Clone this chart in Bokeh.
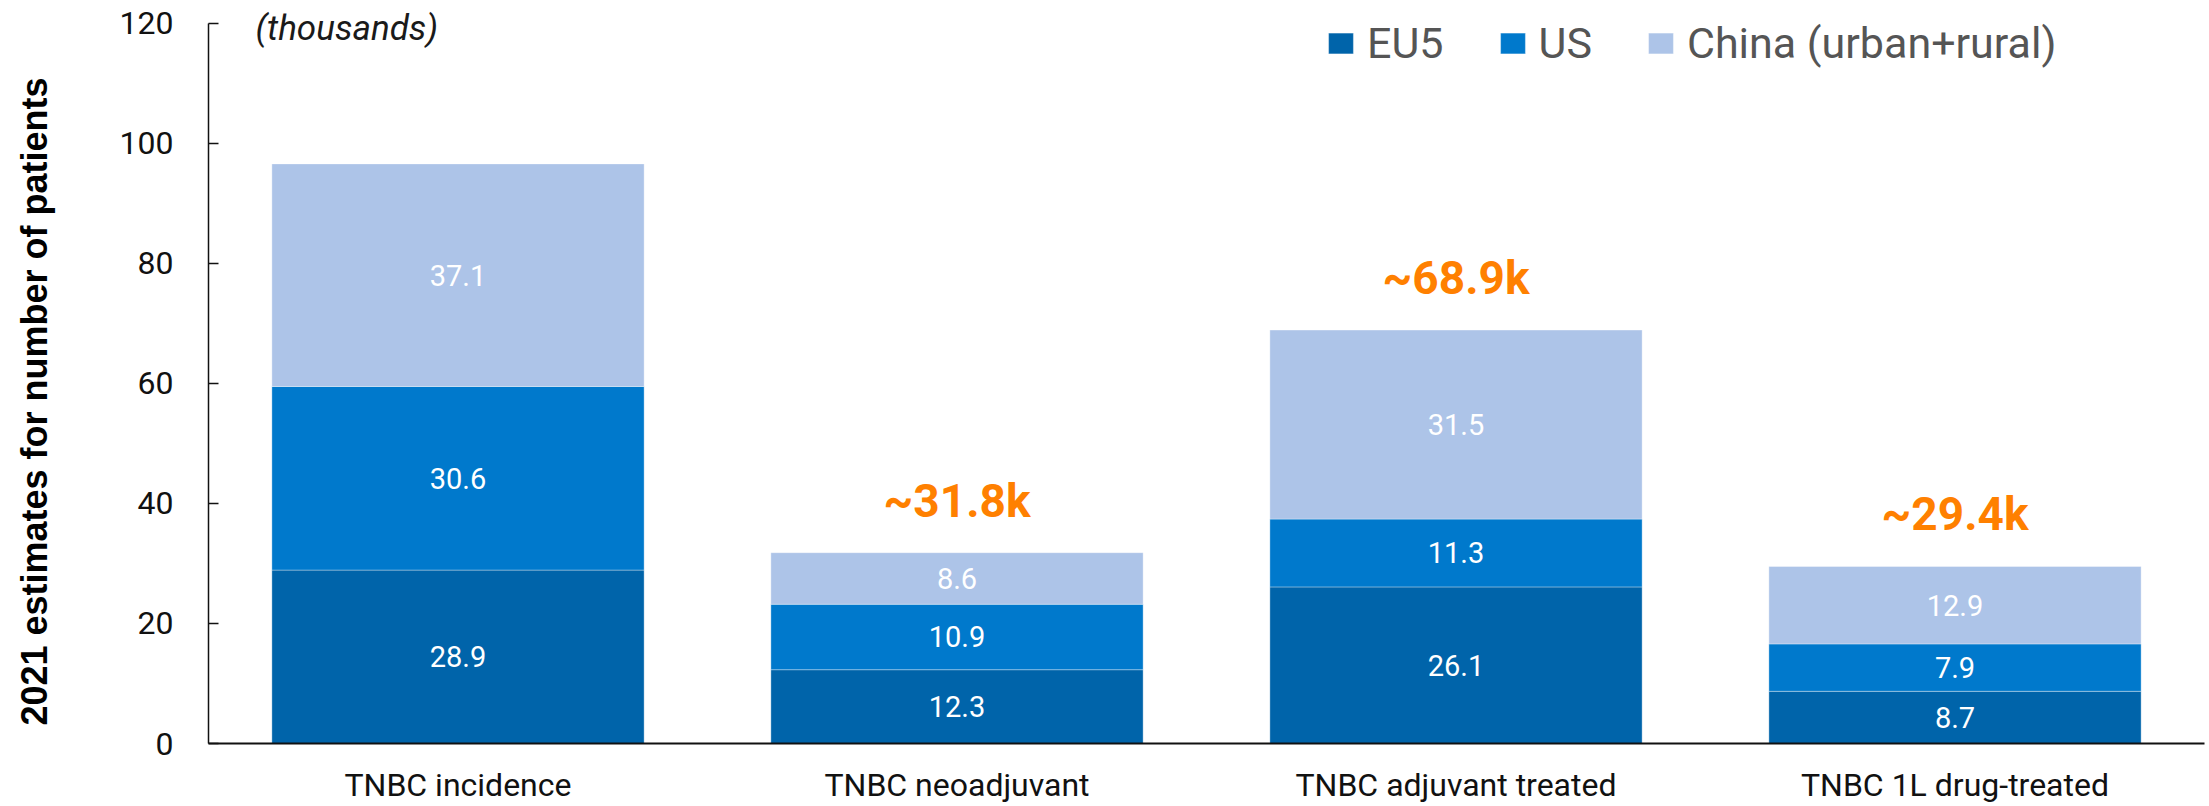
import math
from bokeh.plotting import figure
from bokeh.layouts import row
from bokeh.models import ColumnDataSource, Label, Legend, LegendItem, FactorRange, Range1d
from bokeh.core.properties import value
from bokeh.embed import file_html
from bokeh.resources import INLINE

categories = ["TNBC incidence", "TNBC neoadjuvant", "TNBC adjuvant treated", "TNBC 1L drug-treated"]
eu5 = [28.9, 12.3, 26.1, 8.7]
us = [30.6, 10.9, 11.3, 7.9]
china = [37.1, 8.6, 31.5, 12.9]
total_labels = ["", "~31.8k", "~68.9k", "~29.4k"]
series_names = ["EU5", "US", "China (urban+rural)"]
colors = ["#0064AA", "#0079CC", "#ADC4E8"]
y_ticks = [0, 20, 40, 60, 80, 100, 120]
y_max = 120
y_title = "2021 estimates for number of patients"

FONT = "Roboto"
H = 806
TITLE_W = 60

totals = [a + b + c for a, b, c in zip(eu5, us, china)]
src = ColumnDataSource(data=dict(cat=categories, EU5=eu5, US=us, China=china, total=totals, tlabel=total_labels))

# narrow strip holding the rotated y-axis title
pt = figure(width=TITLE_W, height=H, x_range=Range1d(0, TITLE_W), y_range=Range1d(0, H), output_backend="svg",
            toolbar_location=None, min_border=0)
pt.xaxis.visible = False
pt.yaxis.visible = False
pt.grid.visible = False
pt.outline_line_color = None
pt.text(x=[34], y=[H - 435], text=[y_title], angle=math.pi / 2, text_align="center",
        text_baseline="middle", text_font=value("Liberation Sans"), text_font_style="bold",
        text_font_size="36px", text_color="#000000")

# main chart; frame spans the full height above the x axis, axis line stops at 120
p = figure(x_range=FactorRange(*categories, range_padding=0), y_range=Range1d(0, y_max * 744 / 721),
           width=2209 - TITLE_W, height=H, output_backend="svg", toolbar_location=None,
           min_border_left=208 - TITLE_W, min_border_right=5, min_border_top=0, min_border_bottom=62)
p.outline_line_color = None
p.xgrid.grid_line_color = None
p.ygrid.grid_line_color = None

renderers = p.vbar_stack(["EU5", "US", "China"], x="cat", width=0.746, source=src,
                         color=colors, line_color="white", line_alpha=0.35, line_width=1)

# segment labels
bases = [[0] * 4, eu5, [a + b for a, b in zip(eu5, us)]]
for vals, base in zip([eu5, us, china], bases):
    mids = [b + v / 2 for b, v in zip(base, vals)]
    s = ColumnDataSource(data=dict(cat=categories, y=mids, t=[f"{v:.1f}" for v in vals]))
    p.text(x="cat", y="y", text="t", source=s, text_align="center", text_baseline="middle",
           text_color="white", text_font=value(FONT), text_font_size="29px")

# totals
p.text(x="cat", y="total", text="tlabel", source=src, text_align="center", text_baseline="alphabetic",
       y_offset=-52, text_color="#FF8000", text_font=value(FONT), text_font_style="bold",
       text_font_size="46px")

# axes
p.yaxis.bounds = (0, y_max)
p.yaxis.ticker = y_ticks
p.yaxis.major_label_text_font = FONT
p.yaxis.major_label_text_font_size = "32px"
p.yaxis.major_label_text_color = "#111111"
p.yaxis.major_tick_in = 10
p.yaxis.major_tick_out = 0
p.yaxis.minor_tick_line_color = None
p.yaxis.major_label_standoff = 35
p.yaxis.axis_line_width = 1.5
p.yaxis.major_tick_line_width = 1.5
p.yaxis.axis_line_color = "#111111"
p.yaxis.major_tick_line_color = "#111111"

p.xaxis.major_tick_line_color = None
p.xaxis.major_tick_out = 0
p.xaxis.major_tick_in = 0
p.xaxis.axis_line_width = 2
p.xaxis.axis_line_color = "#111111"
p.xaxis.major_label_text_font = FONT
p.xaxis.major_label_text_font_size = "32px"
p.xaxis.major_label_text_color = "#111111"
p.xaxis.major_label_standoff = 22

p.add_layout(Label(x=0.094, y=y_max - 2.0, text="(thousands)", text_align="left", text_baseline="alphabetic",
                   y_offset=7, text_font=FONT, text_font_style="italic", text_font_size="35px",
                   text_color="#1a1a1a"))

legend = Legend(items=[LegendItem(label=n, renderers=[r]) for n, r in zip(series_names, renderers)],
                orientation="horizontal", location=(1117, 675), glyph_width=31, glyph_height=26,
                label_standoff=11, spacing=53, padding=0, margin=0,
                label_text_font=FONT, label_text_font_size="43px", label_text_color="#555555",
                border_line_color=None, background_fill_alpha=0)
p.add_layout(legend)

layout = row(pt, p, spacing=0)
open("out.html", "w").write(file_html(layout, INLINE))
